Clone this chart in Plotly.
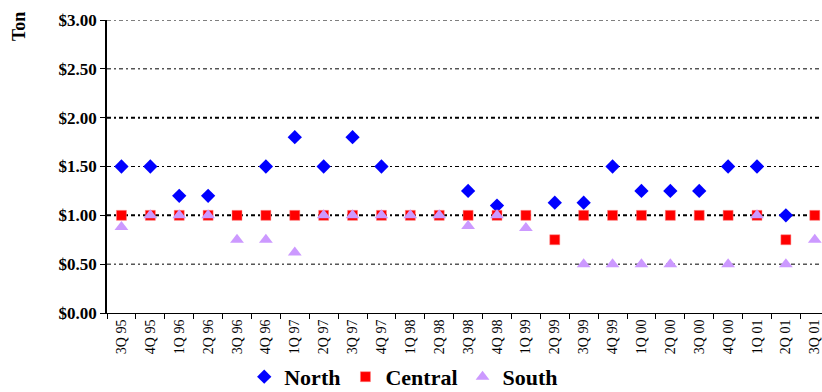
import plotly.graph_objects as go

quarters = ["3Q 95", "4Q 95", "1Q 96", "2Q 96", "3Q 96", "4Q 96", "1Q 97", "2Q 97",
            "3Q 97", "4Q 97", "1Q 98", "2Q 98", "3Q 98", "4Q 98", "1Q 99", "2Q 99",
            "3Q 99", "4Q 99", "1Q 00", "2Q 00", "3Q 00", "4Q 00", "1Q 01", "2Q 01", "3Q 01"]

north = [1.50, 1.50, 1.20, 1.20, None, 1.50, 1.80, 1.50, 1.80, 1.50, None, None,
         1.25, 1.10, None, 1.13, 1.13, 1.50, 1.25, 1.25, 1.25, 1.50, 1.50, 1.00, None]
central = [1.00, 1.00, 1.00, 1.00, 1.00, 1.00, 1.00, 1.00, 1.00, 1.00, 1.00, 1.00,
           1.00, 1.00, 1.00, 0.75, 1.00, 1.00, 1.00, 1.00, 1.00, 1.00, 1.00, 0.75, 1.00]
south = [0.88, 1.00, 1.00, 1.00, 0.75, 0.75, 0.62, 1.00, 1.00, 1.00, 1.00, 1.00,
         0.89, 1.00, 0.87, None, 0.50, 0.50, 0.50, 0.50, None, 0.50, 1.00, 0.50, 0.75]

grid_values = [0.5, 1.0, 1.5, 2.0, 2.5, 3.0]
major_grid = [1.0, 2.0]

SERIF = "Liberation Serif, Times New Roman, serif"

fig = go.Figure()
fig.add_trace(go.Scatter(x=quarters, y=north, mode="markers", name="<b>North</b>",
                         marker=dict(symbol="diamond", size=11, color="#0000FF")))
fig.add_trace(go.Scatter(x=quarters, y=central, mode="markers", name="<b>Central</b>",
                         marker=dict(symbol="square", size=10, color="#FF0000",
                                     line=dict(width=0.5, color="#FF8080"))))
fig.add_trace(go.Scatter(x=quarters, y=south, mode="markers", name="<b>South</b>",
                         marker=dict(symbol="triangle-up", size=12, color="#CC99FF")))

for g in grid_values:
    fig.add_shape(type="line", xref="paper", yref="y", x0=0, x1=1, y0=g, y1=g,
                  layer="below",
                  line=dict(color="black", width=2 if g in major_grid else 1,
                            dash="4px,3px,2px,3px"))

fig.add_annotation(text="<b>Ton</b>", xref="paper", yref="paper", x=-0.123, y=0.976,
                   xanchor="center", yanchor="middle", textangle=-90, showarrow=False,
                   font=dict(family=SERIF, size=18, color="black"))

fig.update_layout(
    width=822, height=392,
    margin=dict(l=107, r=0, t=20, b=79, autoexpand=False),
    plot_bgcolor="white", paper_bgcolor="white",
    showlegend=True,
    legend=dict(orientation="h", x=0.415, xanchor="center", y=-0.218, yanchor="middle",
                font=dict(family=SERIF, size=22, color="black"), itemwidth=30,
                tracegroupgap=0, bgcolor="rgba(0,0,0,0)"),
    font=dict(family=SERIF, color="black"),
)
fig.update_xaxes(type="category", range=[-0.5, 24.25], tickson="boundaries",
                 ticks="outside", ticklen=5, tickcolor="black", tickangle=-90,
                 showline=True, linecolor="black", linewidth=1, showgrid=False,
                 automargin=False,
                 tickfont=dict(family=SERIF, size=14, color="black"))
fig.update_yaxes(range=[0, 3], dtick=0.5, tickprefix="$", tickformat=".2f",
                 ticks="outside", ticklen=5, tickcolor="black",
                 showline=True, linecolor="black", linewidth=1.5, showgrid=False,
                 zeroline=False, automargin=False,
                 tickfont=dict(family=SERIF, size=17, color="black", weight="bold"))

fig.write_html("out.html")
